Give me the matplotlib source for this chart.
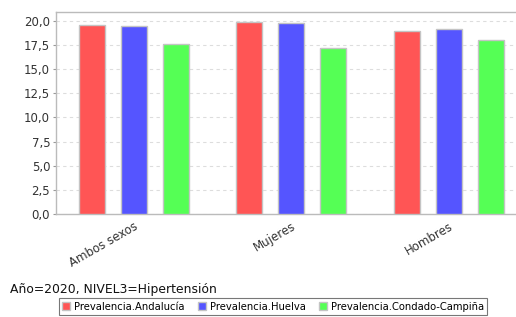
import matplotlib
matplotlib.use("Agg")
import matplotlib.pyplot as plt
import numpy as np
from matplotlib.patches import Patch

categorias = ["Ambos sexos", "Mujeres", "Hombres"]
series = ["Prevalencia.Andalucía", "Prevalencia.Huelva", "Prevalencia.Condado-Campiña"]
andalucia = [19.55, 19.93, 19.0]
huelva = [19.45, 19.76, 19.17]
condado = [17.58, 17.24, 18.0]
colores = ["#FF5555", "#5555FF", "#55FF55"]
yticks = np.arange(0, 20.01, 2.5)

fig = plt.figure(figsize=(5.16, 3.17), dpi=100)
ax = fig.add_axes([55.7 / 516, 103 / 317, 471.3 / 516, 202 / 317])

x = np.arange(len(categorias))
desp = 0.266
ancho = 0.165
for k, (vals, col) in enumerate(zip([andalucia, huelva, condado], colores)):
    ax.bar(x + (k - 1) * desp, vals, width=ancho, color=col,
           edgecolor="#C4C4C4", linewidth=1, zorder=3)

ax.set_xlim(-0.495, 2.495)
ax.set_ylim(0, 20.93)
ax.set_yticks(yticks)
ax.set_yticklabels([f"{v:.1f}".replace(".", ",") for v in yticks], fontsize=8.5, color="#333333")
ax.set_xticks(x)
ax.set_xticklabels(categorias, rotation=30, ha="right", va="top",
                   rotation_mode="anchor", fontsize=8.5, color="#333333")
ax.tick_params(axis="x", length=0, pad=4)
ax.tick_params(axis="y", length=2, width=0.8, color="#999999", pad=2)
ax.grid(axis="y", color="#DDDDDD", linestyle=(0, (3, 3)), linewidth=0.8, zorder=0)
for s in ["top", "left", "bottom"]:
    ax.spines[s].set_color("#BBBBBB")
    ax.spines[s].set_linewidth(1)
ax.spines["right"].set_visible(False)

fig.text(10 / 516, 1 - 289 / 317, "Año=2020, NIVEL3=Hipertensión", fontsize=8.9,
         va="center", ha="left", color="#111111")

handles = [Patch(facecolor=c, edgecolor="#C4C4C4", label=s) for c, s in zip(colores, series)]
leg = fig.legend(handles=handles, loc="upper left", bbox_to_anchor=(58.7 / 516, 1 - 298 / 317),
                 ncol=3, fontsize=7.2, frameon=True, fancybox=False, borderpad=0.35,
                 handlelength=0.8, handleheight=0.8, handletextpad=0.4, columnspacing=1.3,
                 borderaxespad=0)
leg.get_frame().set_edgecolor("#555555")
leg.get_frame().set_linewidth(0.8)

fig.savefig("out.png", dpi=100)
